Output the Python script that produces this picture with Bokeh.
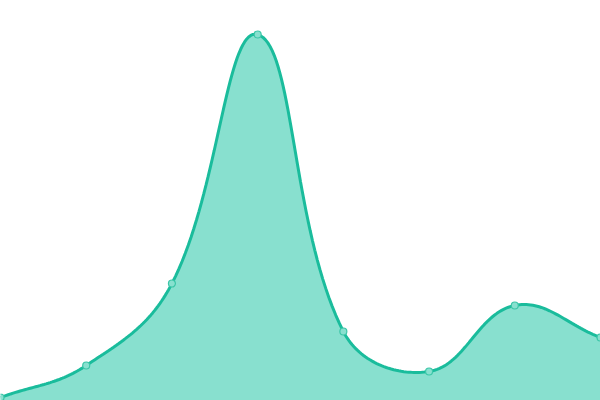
import numpy as np
from bokeh.plotting import figure
from bokeh.embed import file_html
from bokeh.resources import INLINE

# data
x_vals = [0, 1, 2, 3, 4, 5, 6, 7]
y_vals = [3, 35, 117, 366, 69, 29, 95, 63]

W, H = 600, 400
X_MAX, Y_MAX = 7, 400

# Chart.js-like spline (tension 0.4) computed in pixel space
px = np.array(x_vals, float) * W / X_MAX
py = np.array(y_vals, float) * H / Y_MAX
t = 0.4
n = len(px)
cpn = []
cpp = []
for i in range(n):
    prev = (px[max(i - 1, 0)], py[max(i - 1, 0)])
    cur = (px[i], py[i])
    nxt = (px[min(i + 1, n - 1)], py[min(i + 1, n - 1)])
    d01 = np.hypot(cur[0] - prev[0], cur[1] - prev[1])
    d12 = np.hypot(nxt[0] - cur[0], nxt[1] - cur[1])
    s = d01 + d12
    s01 = d01 / s if s else 0
    s12 = d12 / s if s else 0
    fa, fb = t * s01, t * s12
    cpp.append((cur[0] - fa * (nxt[0] - prev[0]), cur[1] - fa * (nxt[1] - prev[1])))
    cpn.append((cur[0] + fb * (nxt[0] - prev[0]), cur[1] + fb * (nxt[1] - prev[1])))

xs, ys = [], []
tt = np.linspace(0, 1, 40)
for i in range(n - 1):
    p0 = np.array([px[i], py[i]])
    p1 = np.array(cpn[i])
    p2 = np.array(cpp[i + 1])
    p3 = np.array([px[i + 1], py[i + 1]])
    for u in tt[:-1] if i < n - 2 else tt:
        b = (1 - u) ** 3 * p0 + 3 * (1 - u) ** 2 * u * p1 + 3 * (1 - u) * u ** 2 * p2 + u ** 3 * p3
        xs.append(b[0] * X_MAX / W)
        ys.append(min(max(b[1], 0), H) * Y_MAX / H)

p = figure(width=W, height=H, x_range=(0, X_MAX), y_range=(0, Y_MAX),
           output_backend="svg", toolbar_location=None, min_border=0,
           styles={"position": "fixed", "left": "0px", "top": "0px"})
p.axis.visible = False
p.grid.visible = False
p.outline_line_color = None
p.background_fill_color = "white"

p.varea(x=xs, y1=[0] * len(xs), y2=ys, fill_color="#88e0cf", fill_alpha=1.0)
p.line(x=xs, y=ys, line_color="#1abc9c", line_width=3)
p.scatter(x=x_vals, y=y_vals, size=7, fill_color="#88e0cf", line_color="#3cc6a8", line_width=1.2)

open("out.html", "w").write(file_html(p, INLINE))
